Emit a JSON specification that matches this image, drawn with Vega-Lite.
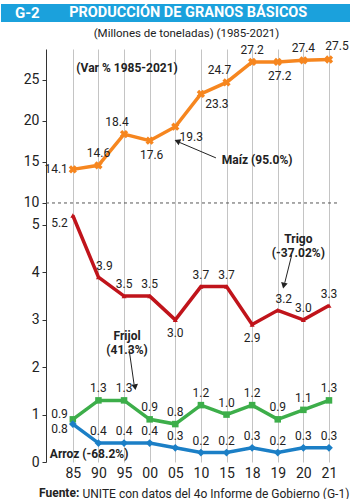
{
"$schema":"https://vega.github.io/schema/vega-lite/v6.json",
"padding":{"left":0,"top":4,"right":0,"bottom":0},
"spacing":5,
"title":{"text":"Fuente:","orient":"bottom","anchor":"start","fontWeight":"bold","fontSize":12,"dx":38,"offset":-11,"color":"#222"},
"config":{
 "font":"Roboto",
 "view":{"stroke":null},
 "axis":{"labelColor":"#222","labelFontSize":14,"labelFont":"Roboto","domainColor":"#333","tickColor":"#333","titleColor":"#222","titleFont":"Roboto"},
 "axisX":{"grid":true,"gridColor":"#c4c4c4","ticks":false,"domain":false,"labelPadding":4,"labelAngle":0,"titleFontSize":12,"titleFontWeight":"normal","titleX":36,"titleY":31,"titleAlign":"left","titleBaseline":"middle"},
 "axisY":{"grid":false,"tickSize":4,"labelPadding":3},
 "text":{"fontSize":12,"color":"#222","font":"Roboto"},
 "title":{"color":"#222","font":"Roboto"}
},
"datasets":{"granos":[
 {"yr":"85","serie":"Maíz","v":14.1},{"yr":"90","serie":"Maíz","v":14.6},{"yr":"95","serie":"Maíz","v":18.4},{"yr":"00","serie":"Maíz","v":17.6},{"yr":"05","serie":"Maíz","v":19.3},{"yr":"10","serie":"Maíz","v":23.3},{"yr":"15","serie":"Maíz","v":24.7},{"yr":"18","serie":"Maíz","v":27.2},{"yr":"19","serie":"Maíz","v":27.2},{"yr":"20","serie":"Maíz","v":27.4},{"yr":"21","serie":"Maíz","v":27.5},
 {"yr":"85","serie":"Trigo","v":5.2},{"yr":"90","serie":"Trigo","v":3.9},{"yr":"95","serie":"Trigo","v":3.5},{"yr":"00","serie":"Trigo","v":3.5},{"yr":"05","serie":"Trigo","v":3.0},{"yr":"10","serie":"Trigo","v":3.7},{"yr":"15","serie":"Trigo","v":3.7},{"yr":"18","serie":"Trigo","v":2.9},{"yr":"19","serie":"Trigo","v":3.2},{"yr":"20","serie":"Trigo","v":3.0},{"yr":"21","serie":"Trigo","v":3.3},
 {"yr":"85","serie":"Frijol","v":0.9},{"yr":"90","serie":"Frijol","v":1.3},{"yr":"95","serie":"Frijol","v":1.3},{"yr":"00","serie":"Frijol","v":0.9},{"yr":"05","serie":"Frijol","v":0.8},{"yr":"10","serie":"Frijol","v":1.2},{"yr":"15","serie":"Frijol","v":1.0},{"yr":"18","serie":"Frijol","v":1.2},{"yr":"19","serie":"Frijol","v":0.9},{"yr":"20","serie":"Frijol","v":1.1},{"yr":"21","serie":"Frijol","v":1.3},
 {"yr":"85","serie":"Arroz","v":0.8},{"yr":"90","serie":"Arroz","v":0.4},{"yr":"95","serie":"Arroz","v":0.4},{"yr":"00","serie":"Arroz","v":0.4},{"yr":"05","serie":"Arroz","v":0.3},{"yr":"10","serie":"Arroz","v":0.2},{"yr":"15","serie":"Arroz","v":0.2},{"yr":"18","serie":"Arroz","v":0.3},{"yr":"19","serie":"Arroz","v":0.2},{"yr":"20","serie":"Arroz","v":0.3},{"yr":"21","serie":"Arroz","v":0.3}
]},
"vconcat":[
 {
  "width":305,"height":18,
  "data":{"values":[{}]},
  "layer":[
   {"mark":{"type":"rect","color":"#1ba1dc"},
    "encoding":{
     "x":{"datum":0,"type":"quantitative","scale":{"domain":[0.1286,1],"nice":false,"zero":false},"axis":null},
     "x2":{"datum":1},
     "y":{"datum":0,"type":"quantitative","scale":{"domain":[0,1],"nice":false},"axis":null},
     "y2":{"datum":1}}},
   {"mark":{"type":"text","align":"left","fontWeight":"bold","fontSize":15,"color":"#ffffff"},
    "encoding":{"x":{"datum":0.04,"type":"quantitative"},"y":{"datum":0.5,"type":"quantitative"},"text":{"value":"G-2"}}},
   {"mark":{"type":"text","align":"center","fontWeight":"bold","fontSize":14.5,"color":"#ffffff"},
    "encoding":{"x":{"datum":0.535,"type":"quantitative"},"y":{"datum":0.5,"type":"quantitative"},"text":{"value":"PRODUCCIÓN DE GRANOS BÁSICOS"}}}
  ]
 },
 {
  "width":291,"height":413,
  "title":{"text":"(Millones de toneladas) (1985-2021)","fontSize":11.5,"fontWeight":"normal","offset":1,"anchor":"middle","dx":-5},
  "data":{"name":"granos"},
  "resolve":{"scale":{"y":"independent"}},
  "layer":[
   {
    "layer":[
     {"transform":[{"filter":{"field":"serie","equal":"Maíz"}}],
      "mark":{"type":"line","color":"#f6861f","strokeWidth":3.5},
      "encoding":{
       "x":{"field":"yr","type":"ordinal","scale":{"type":"point","domain":["85","90","95","00","05","10","15","18","19","20","21"],"padding":0.68,"align":0.77},"title":"UNITE con datos del 4o Informe de Gobierno (G-1)"},
       "y":{"field":"v","type":"quantitative","scale":{"domain":[-21.59,28.78],"nice":false,"zero":false},"title":null,"axis":{"orient":"left","values":[10,15,20,25],"title":null,"grid":false,"minExtent":45,"maxExtent":45}}}},
     {"transform":[{"filter":{"field":"serie","equal":"Maíz"}}],
      "mark":{"type":"point","shape":"cross","angle":45,"filled":true,"size":70,"color":"#f6861f","opacity":1},
      "encoding":{
       "x":{"field":"yr","type":"ordinal","scale":{"type":"point","domain":["85","90","95","00","05","10","15","18","19","20","21"],"padding":0.68,"align":0.77},"title":"UNITE con datos del 4o Informe de Gobierno (G-1)"},
       "y":{"field":"v","type":"quantitative","title":null}}},
     {"transform":[{"filter":{"and":[{"field":"serie","equal":"Maíz"},{"field":"yr","oneOf":["85"]}]}}],
      "mark":{"type":"text","align":"right","dx":-5,"dy":0},
      "encoding":{
       "x":{"field":"yr","type":"ordinal","scale":{"type":"point","domain":["85","90","95","00","05","10","15","18","19","20","21"],"padding":0.68,"align":0.77},"title":"UNITE con datos del 4o Informe de Gobierno (G-1)"},
       "y":{"field":"v","type":"quantitative","title":null},
       "text":{"field":"v","type":"quantitative","format":".1f"}}},
     {"transform":[{"filter":{"and":[{"field":"serie","equal":"Maíz"},{"field":"yr","oneOf":["95","15"]}]}}],
      "mark":{"type":"text","dx":-7,"dy":-12},
      "encoding":{
       "x":{"field":"yr","type":"ordinal","scale":{"type":"point","domain":["85","90","95","00","05","10","15","18","19","20","21"],"padding":0.68,"align":0.77},"title":"UNITE con datos del 4o Informe de Gobierno (G-1)"},
       "y":{"field":"v","type":"quantitative","title":null},
       "text":{"field":"v","type":"quantitative","format":".1f"}}},
     {"transform":[{"filter":{"and":[{"field":"serie","equal":"Maíz"},{"field":"yr","oneOf":["90","18","20"]}]}}],
      "mark":{"type":"text","dx":0,"dy":-12},
      "encoding":{
       "x":{"field":"yr","type":"ordinal","scale":{"type":"point","domain":["85","90","95","00","05","10","15","18","19","20","21"],"padding":0.68,"align":0.77},"title":"UNITE con datos del 4o Informe de Gobierno (G-1)"},
       "y":{"field":"v","type":"quantitative","title":null},
       "text":{"field":"v","type":"quantitative","format":".1f"}}},
     {"transform":[{"filter":{"and":[{"field":"serie","equal":"Maíz"},{"field":"yr","oneOf":["21"]}]}}],
      "mark":{"type":"text","dx":8,"dy":-13},
      "encoding":{
       "x":{"field":"yr","type":"ordinal","scale":{"type":"point","domain":["85","90","95","00","05","10","15","18","19","20","21"],"padding":0.68,"align":0.77},"title":"UNITE con datos del 4o Informe de Gobierno (G-1)"},
       "y":{"field":"v","type":"quantitative","title":null},
       "text":{"field":"v","type":"quantitative","format":".1f"}}},
     {"transform":[{"filter":{"and":[{"field":"serie","equal":"Maíz"},{"field":"yr","oneOf":["00","19"]}]}}],
      "mark":{"type":"text","dx":2,"dy":14},
      "encoding":{
       "x":{"field":"yr","type":"ordinal","scale":{"type":"point","domain":["85","90","95","00","05","10","15","18","19","20","21"],"padding":0.68,"align":0.77},"title":"UNITE con datos del 4o Informe de Gobierno (G-1)"},
       "y":{"field":"v","type":"quantitative","title":null},
       "text":{"field":"v","type":"quantitative","format":".1f"}}},
     {"transform":[{"filter":{"and":[{"field":"serie","equal":"Maíz"},{"field":"yr","oneOf":["05","10"]}]}}],
      "mark":{"type":"text","dx":16,"dy":10},
      "encoding":{
       "x":{"field":"yr","type":"ordinal","scale":{"type":"point","domain":["85","90","95","00","05","10","15","18","19","20","21"],"padding":0.68,"align":0.77},"title":"UNITE con datos del 4o Informe de Gobierno (G-1)"},
       "y":{"field":"v","type":"quantitative","title":null},
       "text":{"field":"v","type":"quantitative","format":".1f"}}},
     {"data":{"values":[{}]},
      "mark":{"type":"rule","strokeDash":[3,3],"color":"#555555","strokeWidth":1},
      "encoding":{"y":{"datum":10,"type":"quantitative","title":null}}},
     {"data":{"values":[{}]},
      "mark":{"type":"text","fontWeight":"bold","dx":3},
      "encoding":{
       "x":{"datum":"95","type":"ordinal","scale":{"type":"point","domain":["85","90","95","00","05","10","15","18","19","20","21"],"padding":0.68,"align":0.77},"title":"UNITE con datos del 4o Informe de Gobierno (G-1)"},
       "y":{"datum":26.46,"type":"quantitative","title":null},
       "text":{"value":"(Var % 1985-2021)"}}},
     {"data":{"values":[{}]},
      "mark":{"type":"text","fontWeight":"bold","dx":5},
      "encoding":{
       "x":{"datum":"18","type":"ordinal","scale":{"type":"point","domain":["85","90","95","00","05","10","15","18","19","20","21"],"padding":0.68,"align":0.77},"title":"UNITE con datos del 4o Informe de Gobierno (G-1)"},
       "y":{"datum":15.3,"type":"quantitative","title":null},
       "text":{"value":"Maíz (95.0%)"}}},
     {"data":{"values":[{}]},
      "mark":{"type":"rule","color":"#222222","strokeWidth":1,"xOffset":15,"x2Offset":4},
      "encoding":{
       "x":{"datum":"10","type":"ordinal","scale":{"type":"point","domain":["85","90","95","00","05","10","15","18","19","20","21"],"padding":0.68,"align":0.77},"title":"UNITE con datos del 4o Informe de Gobierno (G-1)"},
       "x2":{"datum":"05"},
       "y":{"datum":15.5,"type":"quantitative","title":null},
       "y2":{"datum":17.4}}},
     {"data":{"values":[{}]},
      "mark":{"type":"point","shape":"triangle-up","filled":true,"size":45,"angle":293,"color":"#222222","opacity":1,"xOffset":2},
      "encoding":{
       "x":{"datum":"05","type":"ordinal","scale":{"type":"point","domain":["85","90","95","00","05","10","15","18","19","20","21"],"padding":0.68,"align":0.77},"title":"UNITE con datos del 4o Informe de Gobierno (G-1)"},
       "y":{"datum":17.55,"type":"quantitative","title":null}}}
    ]
   },
   {
    "layer":[
     {"transform":[{"filter":{"field":"serie","oneOf":["Trigo","Frijol","Arroz"]}}],
      "mark":{"type":"line","strokeWidth":3.5},
      "encoding":{
       "x":{"field":"yr","type":"ordinal","scale":{"type":"point","domain":["85","90","95","00","05","10","15","18","19","20","21"],"padding":0.68,"align":0.77},"title":"UNITE con datos del 4o Informe de Gobierno (G-1)"},
       "y":{"field":"v","type":"quantitative","scale":{"domain":[0,8.713],"nice":false,"zero":false},"title":null,"axis":{"orient":"left","values":[0,1,2,3,4,5],"title":null,"grid":false,"domain":false,"minExtent":45,"maxExtent":45}},
       "color":{"field":"serie","type":"nominal","scale":{"domain":["Trigo","Frijol","Arroz"],"range":["#c0141b","#3dae4a","#1b7fc6"]},"legend":null}}},
     {"transform":[{"filter":{"field":"serie","oneOf":["Trigo","Frijol","Arroz"]}}],
      "mark":{"type":"point","filled":true,"opacity":1},
      "encoding":{
       "x":{"field":"yr","type":"ordinal","scale":{"type":"point","domain":["85","90","95","00","05","10","15","18","19","20","21"],"padding":0.68,"align":0.77},"title":"UNITE con datos del 4o Informe de Gobierno (G-1)"},
       "y":{"field":"v","type":"quantitative","title":null},
       "color":{"field":"serie","type":"nominal","scale":{"domain":["Trigo","Frijol","Arroz"],"range":["#c0141b","#3dae4a","#1b7fc6"]},"legend":null},
       "shape":{"field":"serie","type":"nominal","scale":{"domain":["Trigo","Frijol","Arroz"],"range":["triangle-up","square","diamond"]},"legend":null},
       "size":{"field":"serie","type":"nominal","scale":{"domain":["Trigo","Frijol","Arroz"],"range":[25,60,75]},"legend":null}}},
     {"transform":[{"filter":{"and":[{"field":"serie","equal":"Trigo"},{"field":"yr","oneOf":["85"]}]}}],
      "mark":{"type":"text","align":"right","dx":-5,"dy":7},
      "encoding":{
       "x":{"field":"yr","type":"ordinal","scale":{"type":"point","domain":["85","90","95","00","05","10","15","18","19","20","21"],"padding":0.68,"align":0.77},"title":"UNITE con datos del 4o Informe de Gobierno (G-1)"},
       "y":{"field":"v","type":"quantitative","title":null},
       "text":{"field":"v","type":"quantitative","format":".1f"}}},
     {"transform":[{"filter":{"and":[{"field":"serie","equal":"Trigo"},{"field":"yr","oneOf":["95","00","10","15","20","21"]}]}}],
      "mark":{"type":"text","dy":-12},
      "encoding":{
       "x":{"field":"yr","type":"ordinal","scale":{"type":"point","domain":["85","90","95","00","05","10","15","18","19","20","21"],"padding":0.68,"align":0.77},"title":"UNITE con datos del 4o Informe de Gobierno (G-1)"},
       "y":{"field":"v","type":"quantitative","title":null},
       "text":{"field":"v","type":"quantitative","format":".1f"}}},
     {"transform":[{"filter":{"and":[{"field":"serie","equal":"Trigo"},{"field":"yr","oneOf":["90","19"]}]}}],
      "mark":{"type":"text","dx":6,"dy":-11},
      "encoding":{
       "x":{"field":"yr","type":"ordinal","scale":{"type":"point","domain":["85","90","95","00","05","10","15","18","19","20","21"],"padding":0.68,"align":0.77},"title":"UNITE con datos del 4o Informe de Gobierno (G-1)"},
       "y":{"field":"v","type":"quantitative","title":null},
       "text":{"field":"v","type":"quantitative","format":".1f"}}},
     {"transform":[{"filter":{"and":[{"field":"serie","equal":"Trigo"},{"field":"yr","oneOf":["05","18"]}]}}],
      "mark":{"type":"text","dy":13},
      "encoding":{
       "x":{"field":"yr","type":"ordinal","scale":{"type":"point","domain":["85","90","95","00","05","10","15","18","19","20","21"],"padding":0.68,"align":0.77},"title":"UNITE con datos del 4o Informe de Gobierno (G-1)"},
       "y":{"field":"v","type":"quantitative","title":null},
       "text":{"field":"v","type":"quantitative","format":".1f"}}},
     {"transform":[{"filter":{"and":[{"field":"serie","equal":"Frijol"},{"field":"yr","oneOf":["85"]}]}}],
      "mark":{"type":"text","align":"right","dx":-5,"dy":-5},
      "encoding":{
       "x":{"field":"yr","type":"ordinal","scale":{"type":"point","domain":["85","90","95","00","05","10","15","18","19","20","21"],"padding":0.68,"align":0.77},"title":"UNITE con datos del 4o Informe de Gobierno (G-1)"},
       "y":{"field":"v","type":"quantitative","title":null},
       "text":{"field":"v","type":"quantitative","format":".1f"}}},
     {"transform":[{"filter":{"and":[{"field":"serie","equal":"Frijol"},{"field":"yr","oneOf":["90","95","00","05","10","15","18","19","20","21"]}]}}],
      "mark":{"type":"text","dy":-12},
      "encoding":{
       "x":{"field":"yr","type":"ordinal","scale":{"type":"point","domain":["85","90","95","00","05","10","15","18","19","20","21"],"padding":0.68,"align":0.77},"title":"UNITE con datos del 4o Informe de Gobierno (G-1)"},
       "y":{"field":"v","type":"quantitative","title":null},
       "text":{"field":"v","type":"quantitative","format":".1f"}}},
     {"transform":[{"filter":{"and":[{"field":"serie","equal":"Arroz"},{"field":"yr","oneOf":["85"]}]}}],
      "mark":{"type":"text","align":"right","dx":-5,"dy":5},
      "encoding":{
       "x":{"field":"yr","type":"ordinal","scale":{"type":"point","domain":["85","90","95","00","05","10","15","18","19","20","21"],"padding":0.68,"align":0.77},"title":"UNITE con datos del 4o Informe de Gobierno (G-1)"},
       "y":{"field":"v","type":"quantitative","title":null},
       "text":{"field":"v","type":"quantitative","format":".1f"}}},
     {"transform":[{"filter":{"and":[{"field":"serie","equal":"Arroz"},{"field":"yr","oneOf":["90","95","00","05","10","15","18","19","20","21"]}]}}],
      "mark":{"type":"text","dy":-12},
      "encoding":{
       "x":{"field":"yr","type":"ordinal","scale":{"type":"point","domain":["85","90","95","00","05","10","15","18","19","20","21"],"padding":0.68,"align":0.77},"title":"UNITE con datos del 4o Informe de Gobierno (G-1)"},
       "y":{"field":"v","type":"quantitative","title":null},
       "text":{"field":"v","type":"quantitative","format":".1f"}}},
     {"data":{"values":[{}]},
      "mark":{"type":"text","fontWeight":"bold","dx":-5,"lineHeight":14},
      "encoding":{
       "x":{"datum":"20","type":"ordinal","scale":{"type":"point","domain":["85","90","95","00","05","10","15","18","19","20","21"],"padding":0.68,"align":0.77},"title":"UNITE con datos del 4o Informe de Gobierno (G-1)"},
       "y":{"datum":4.715,"type":"quantitative","title":null},
       "text":{"value":["Trigo","(-37.02%)"]}}},
     {"data":{"values":[{}]},
      "mark":{"type":"rule","color":"#222222","strokeWidth":1,"xOffset":14,"x2Offset":7},
      "encoding":{
       "x":{"datum":"19","type":"ordinal","scale":{"type":"point","domain":["85","90","95","00","05","10","15","18","19","20","21"],"padding":0.68,"align":0.77},"title":"UNITE con datos del 4o Informe de Gobierno (G-1)"},
       "x2":{"datum":"19"},
       "y":{"datum":4.37,"type":"quantitative","title":null},
       "y2":{"datum":3.78}}},
     {"data":{"values":[{}]},
      "mark":{"type":"point","shape":"triangle-up","filled":true,"size":45,"angle":193,"color":"#222222","opacity":1,"xOffset":6},
      "encoding":{
       "x":{"datum":"19","type":"ordinal","scale":{"type":"point","domain":["85","90","95","00","05","10","15","18","19","20","21"],"padding":0.68,"align":0.77},"title":"UNITE con datos del 4o Informe de Gobierno (G-1)"},
       "y":{"datum":3.72,"type":"quantitative","title":null}}},
     {"data":{"values":[{}]},
      "mark":{"type":"text","fontWeight":"bold","dx":3,"lineHeight":14},
      "encoding":{
       "x":{"datum":"95","type":"ordinal","scale":{"type":"point","domain":["85","90","95","00","05","10","15","18","19","20","21"],"padding":0.68,"align":0.77},"title":"UNITE con datos del 4o Informe de Gobierno (G-1)"},
       "y":{"datum":2.65,"type":"quantitative","title":null},
       "text":{"value":["Frijol","(41.3%)"]}}},
     {"data":{"values":[{}]},
      "mark":{"type":"rule","color":"#222222","strokeWidth":1,"xOffset":5,"x2Offset":10},
      "encoding":{
       "x":{"datum":"95","type":"ordinal","scale":{"type":"point","domain":["85","90","95","00","05","10","15","18","19","20","21"],"padding":0.68,"align":0.77},"title":"UNITE con datos del 4o Informe de Gobierno (G-1)"},
       "x2":{"datum":"95"},
       "y":{"datum":2.38,"type":"quantitative","title":null},
       "y2":{"datum":1.64}}},
     {"data":{"values":[{}]},
      "mark":{"type":"point","shape":"triangle-up","filled":true,"size":45,"angle":172,"color":"#222222","opacity":1,"xOffset":11},
      "encoding":{
       "x":{"datum":"95","type":"ordinal","scale":{"type":"point","domain":["85","90","95","00","05","10","15","18","19","20","21"],"padding":0.68,"align":0.77},"title":"UNITE con datos del 4o Informe de Gobierno (G-1)"},
       "y":{"datum":1.58,"type":"quantitative","title":null}}},
     {"data":{"values":[{}]},
      "mark":{"type":"text","fontWeight":"bold","align":"left","dx":-23},
      "encoding":{
       "x":{"datum":"85","type":"ordinal","scale":{"type":"point","domain":["85","90","95","00","05","10","15","18","19","20","21"],"padding":0.68,"align":0.77},"title":"UNITE con datos del 4o Informe de Gobierno (G-1)"},
       "y":{"datum":0.17,"type":"quantitative","title":null},
       "text":{"value":"Arroz (-68.2%)"}}}
    ]
   }
  ]
 }
]
}
